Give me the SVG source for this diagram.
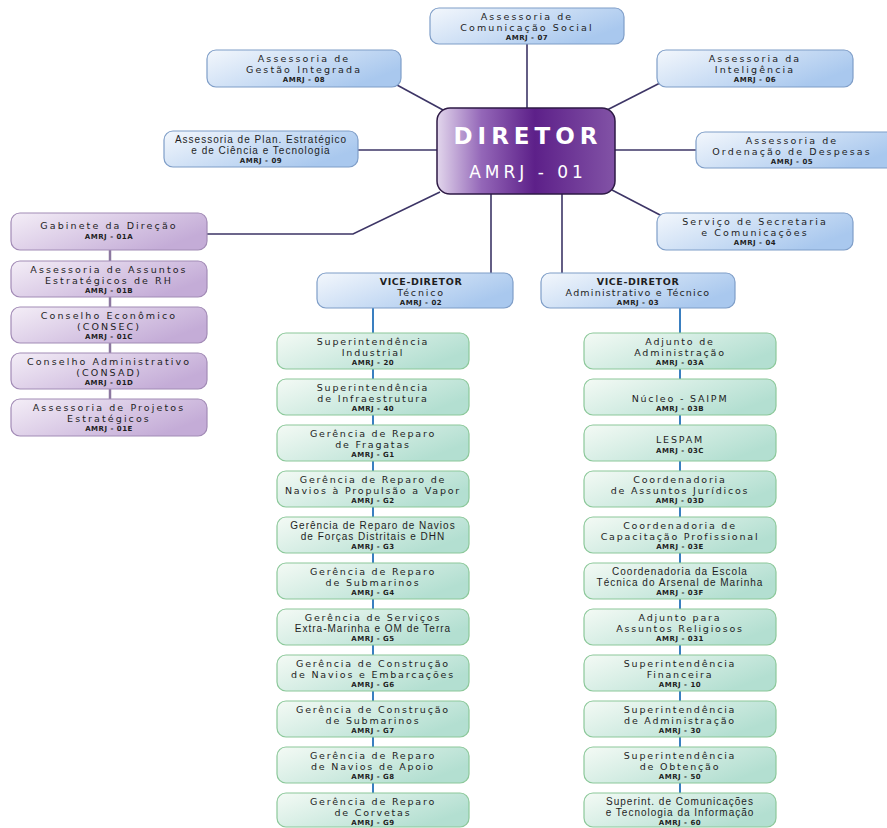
<svg xmlns="http://www.w3.org/2000/svg" width="887" height="828" viewBox="0 0 887 828">
<defs>
<linearGradient id="gBlue" x1="0" y1="0" x2="1" y2="0.5"><stop offset="0" stop-color="#f3f7fc"/><stop offset="1" stop-color="#a9c8ee"/></linearGradient>
<linearGradient id="gGreen" x1="0" y1="0" x2="1" y2="0.5"><stop offset="0" stop-color="#f4faf5"/><stop offset="1" stop-color="#b3dfd1"/></linearGradient>
<linearGradient id="gPurple" x1="0" y1="0" x2="1" y2="0.5"><stop offset="0" stop-color="#f4eef7"/><stop offset="1" stop-color="#c4acd7"/></linearGradient>
<linearGradient id="gDir" x1="0" y1="0" x2="1" y2="0"><stop offset="0" stop-color="#e2d6ec"/><stop offset="0.25" stop-color="#9467b8"/><stop offset="0.55" stop-color="#5d2089"/><stop offset="1" stop-color="#8253a6"/></linearGradient>
</defs>
<style>
.b{fill:url(#gBlue);stroke:#7f9ec8;stroke-width:1.2}
.g{fill:url(#gGreen);stroke:#8cc89a;stroke-width:1.2}
.p{fill:url(#gPurple);stroke:#a28bb6;stroke-width:1.2}
text{font-family:"DejaVu Sans",sans-serif;fill:#1e1e1e;text-anchor:middle}
.t{font-size:9.5px;letter-spacing:1.8px}
.tt{font-size:9.5px;letter-spacing:2.1px}
.n{font-family:"Liberation Sans",sans-serif;font-size:10px;letter-spacing:1px}
.c{font-size:7px;font-weight:bold;letter-spacing:0.5px}
.v{font-size:9.5px;font-weight:bold;letter-spacing:0.6px}
.dt{fill:#ffffff;font-weight:bold;font-size:23px;letter-spacing:5px}
.da{fill:#ffffff;font-size:17px;letter-spacing:4px}
.ln{stroke:#3d3566;stroke-width:1.6;fill:none}
.lb{stroke:#3a7fc0;stroke-width:2;fill:none}
.lp{stroke:#8c78a0;stroke-width:2.5;fill:none}
</style>
<g id="connectors">
<line class="ln" x1="527" y1="44" x2="527" y2="108"/>
<line class="ln" x1="397" y1="85" x2="443" y2="110"/>
<line class="ln" x1="607" y1="110" x2="660" y2="83"/>
<line class="ln" x1="358" y1="150" x2="437" y2="150"/>
<line class="ln" x1="615" y1="150" x2="696" y2="150"/>
<line class="ln" x1="612" y1="190" x2="662" y2="216"/>
<polyline class="ln" points="440,192 353,234 207,234"/>
<line class="ln" x1="491" y1="194" x2="491" y2="273"/>
<line class="ln" x1="562" y1="194" x2="562" y2="273"/>
<line class="lp" x1="110" y1="249" x2="110" y2="399"/>
<line class="lb" x1="373" y1="308" x2="373" y2="800"/>
<line class="lb" x1="680" y1="308" x2="680" y2="800"/>
</g>
<g id="diretor">
<rect x="437" y="108" width="178" height="86" rx="13" fill="url(#gDir)" stroke="#2e1a45" stroke-width="1.5"/>
<text class="dt" x="528" y="144">DIRETOR</text>
<text class="da" x="528" y="178">AMRJ - 01</text>
</g>
<g id="amrj07"><rect class="b" x="430" y="8" width="194" height="36" rx="9"/><text class="tt" x="527" y="20">Assessoria de</text><text class="tt" x="527" y="31.2">Comunicação Social</text><text class="c" x="527" y="40.3">AMRJ - 07</text></g>
<g id="amrj08"><rect class="b" x="207" y="50" width="194" height="37" rx="9"/><text class="tt" x="304" y="62">Assessoria de</text><text class="tt" x="304" y="73.2">Gestão Integrada</text><text class="c" x="304" y="82.3">AMRJ - 08</text></g>
<g id="amrj06"><rect class="b" x="657" y="50" width="196" height="37" rx="9"/><text class="tt" x="755" y="62">Assessoria da</text><text class="tt" x="755" y="73.2">Inteligência</text><text class="c" x="755" y="82.3">AMRJ - 06</text></g>
<g id="amrj09"><rect class="b" x="164" y="131" width="194" height="36" rx="9"/><text class="n" x="261" y="143">Assessoria de Plan. Estratégico</text><text class="n" x="261" y="154.2">e de Ciência e Tecnologia</text><text class="c" x="261" y="163.3">AMRJ - 09</text></g>
<g id="amrj05"><rect class="b" x="696" y="132" width="200" height="36" rx="9"/><text class="tt" x="792" y="144">Assessoria de</text><text class="tt" x="792" y="155.2">Ordenação de Despesas</text><text class="c" x="792" y="164.3">AMRJ - 05</text></g>
<g id="amrj04"><rect class="b" x="657" y="213" width="196" height="37" rx="9"/><text class="tt" x="755" y="225">Serviço de Secretaria</text><text class="tt" x="755" y="236.2">e Comunicações</text><text class="c" x="755" y="245.3">AMRJ - 04</text></g>
<g id="amrj01a"><rect class="p" x="11" y="213" width="196" height="37" rx="9"/><text class="tt" x="109" y="229">Gabinete da Direção</text><text class="c" x="109" y="238.5">AMRJ - 01A</text></g>
<g id="amrj01b"><rect class="p" x="11" y="261" width="196" height="36" rx="9"/><text class="tt" x="109" y="273">Assessoria de Assuntos</text><text class="tt" x="109" y="284.2">Estratégicos de RH</text><text class="c" x="109" y="293.3">AMRJ - 01B</text></g>
<g id="amrj01c"><rect class="p" x="11" y="307" width="196" height="36" rx="9"/><text class="tt" x="109" y="319">Conselho Econômico</text><text class="tt" x="109" y="330.2">(CONSEC)</text><text class="c" x="109" y="339.3">AMRJ - 01C</text></g>
<g id="amrj01d"><rect class="p" x="11" y="353" width="196" height="36" rx="9"/><text class="tt" x="109" y="365">Conselho Administrativo</text><text class="tt" x="109" y="376.2">(CONSAD)</text><text class="c" x="109" y="385.3">AMRJ - 01D</text></g>
<g id="amrj01e"><rect class="p" x="11" y="399" width="196" height="37" rx="9"/><text class="tt" x="109" y="411">Assessoria de Projetos</text><text class="tt" x="109" y="422.2">Estratégicos</text><text class="c" x="109" y="431.3">AMRJ - 01E</text></g>
<g id="amrj02"><rect class="b" x="317" y="273" width="196" height="35" rx="9"/><text class="v" x="421" y="284.5">VICE-DIRETOR</text><text class="t" x="421" y="296">Técnico</text><text class="c" x="421" y="304.9">AMRJ - 02</text></g>
<g id="amrj03"><rect class="b" x="541" y="273" width="194" height="35" rx="9"/><text class="v" x="638" y="284.5">VICE-DIRETOR</text><text class="tt" x="638" y="296" style="letter-spacing:1.2px">Administrativo e Técnico</text><text class="c" x="638" y="304.9">AMRJ - 03</text></g>
<g id="amrj20"><rect class="g" x="277" y="333" width="192" height="36" rx="9"/><text class="t" x="373" y="345">Superintendência</text><text class="t" x="373" y="356.2">Industrial</text><text class="c" x="373" y="365.3">AMRJ - 20</text></g>
<g id="amrj40"><rect class="g" x="277" y="379" width="192" height="36" rx="9"/><text class="t" x="373" y="391">Superintendência</text><text class="t" x="373" y="402.2">de Infraestrutura</text><text class="c" x="373" y="411.3">AMRJ - 40</text></g>
<g id="amrjg1"><rect class="g" x="277" y="425" width="192" height="36" rx="9"/><text class="t" x="373" y="437">Gerência de Reparo</text><text class="t" x="373" y="448.2">de Fragatas</text><text class="c" x="373" y="457.3">AMRJ - G1</text></g>
<g id="amrjg2"><rect class="g" x="277" y="471" width="192" height="36" rx="9"/><text class="t" x="373" y="483">Gerência de Reparo de</text><text class="t" x="373" y="494.2">Navios à Propulsão a Vapor</text><text class="c" x="373" y="503.3">AMRJ - G2</text></g>
<g id="amrjg3"><rect class="g" x="277" y="517" width="192" height="36" rx="9"/><text class="n" x="373" y="529">Gerência de Reparo de Navios</text><text class="n" x="373" y="540.2">de Forças Distritais e DHN</text><text class="c" x="373" y="549.3">AMRJ - G3</text></g>
<g id="amrjg4"><rect class="g" x="277" y="563" width="192" height="36" rx="9"/><text class="t" x="373" y="575">Gerência de Reparo</text><text class="t" x="373" y="586.2">de Submarinos</text><text class="c" x="373" y="595.3">AMRJ - G4</text></g>
<g id="amrjg5"><rect class="g" x="277" y="609" width="192" height="36" rx="9"/><text class="t" x="373" y="621">Gerência de Serviços</text><text class="n" x="373" y="632.2">Extra-Marinha e OM de Terra</text><text class="c" x="373" y="641.3">AMRJ - G5</text></g>
<g id="amrjg6"><rect class="g" x="277" y="655" width="192" height="36" rx="9"/><text class="t" x="373" y="667">Gerência de Construção</text><text class="t" x="373" y="678.2">de Navios e Embarcações</text><text class="c" x="373" y="687.3">AMRJ - G6</text></g>
<g id="amrjg7"><rect class="g" x="277" y="701" width="192" height="36" rx="9"/><text class="t" x="373" y="713">Gerência de Construção</text><text class="t" x="373" y="724.2">de Submarinos</text><text class="c" x="373" y="733.3">AMRJ - G7</text></g>
<g id="amrjg8"><rect class="g" x="277" y="747" width="192" height="36" rx="9"/><text class="t" x="373" y="759">Gerência de Reparo</text><text class="t" x="373" y="770.2">de Navios de Apoio</text><text class="c" x="373" y="779.3">AMRJ - G8</text></g>
<g id="amrjg9"><rect class="g" x="277" y="793" width="192" height="34" rx="9"/><text class="t" x="373" y="805">Gerência de Reparo</text><text class="t" x="373" y="816.2">de Corvetas</text><text class="c" x="373" y="825.3">AMRJ - G9</text></g>
<g id="amrj03a"><rect class="g" x="584" y="333" width="192" height="36" rx="9"/><text class="t" x="680" y="345">Adjunto de</text><text class="t" x="680" y="356.2">Administração</text><text class="c" x="680" y="365.3">AMRJ - 03A</text></g>
<g id="amrj03b"><rect class="g" x="584" y="379" width="192" height="36" rx="9"/><text class="t" x="680" y="402.2">Núcleo - SAIPM</text><text class="c" x="680" y="411.3">AMRJ - 03B</text></g>
<g id="amrj03c"><rect class="g" x="584" y="425" width="192" height="36" rx="9"/><text class="t" x="680" y="443">LESPAM</text><text class="c" x="680" y="453">AMRJ - 03C</text></g>
<g id="amrj03d"><rect class="g" x="584" y="471" width="192" height="36" rx="9"/><text class="t" x="680" y="483">Coordenadoria</text><text class="t" x="680" y="494.2">de Assuntos Jurídicos</text><text class="c" x="680" y="503.3">AMRJ - 03D</text></g>
<g id="amrj03e"><rect class="g" x="584" y="517" width="192" height="36" rx="9"/><text class="t" x="680" y="529">Coordenadoria de</text><text class="t" x="680" y="540.2">Capacitação Profissional</text><text class="c" x="680" y="549.3">AMRJ - 03E</text></g>
<g id="amrj03f"><rect class="g" x="584" y="563" width="192" height="36" rx="9"/><text class="n" x="680" y="575">Coordenadoria da Escola</text><text class="n" x="680" y="586.2">Técnica do Arsenal de Marinha</text><text class="c" x="680" y="595.3">AMRJ - 03F</text></g>
<g id="amrj031"><rect class="g" x="584" y="609" width="192" height="36" rx="9"/><text class="t" x="680" y="621">Adjunto para</text><text class="t" x="680" y="632.2">Assuntos Religiosos</text><text class="c" x="680" y="641.3">AMRJ - 031</text></g>
<g id="amrj10"><rect class="g" x="584" y="655" width="192" height="36" rx="9"/><text class="t" x="680" y="667">Superintendência</text><text class="t" x="680" y="678.2">Financeira</text><text class="c" x="680" y="687.3">AMRJ - 10</text></g>
<g id="amrj30"><rect class="g" x="584" y="701" width="192" height="36" rx="9"/><text class="t" x="680" y="713">Superintendência</text><text class="t" x="680" y="724.2">de Administração</text><text class="c" x="680" y="733.3">AMRJ - 30</text></g>
<g id="amrj50"><rect class="g" x="584" y="747" width="192" height="36" rx="9"/><text class="t" x="680" y="759">Superintendência</text><text class="t" x="680" y="770.2">de Obtenção</text><text class="c" x="680" y="779.3">AMRJ - 50</text></g>
<g id="amrj60"><rect class="g" x="584" y="793" width="192" height="34" rx="9"/><text class="n" x="680" y="805">Superint. de Comunicações</text><text class="n" x="680" y="816.2">e Tecnologia da Informação</text><text class="c" x="680" y="825.3">AMRJ - 60</text></g>
</svg>
